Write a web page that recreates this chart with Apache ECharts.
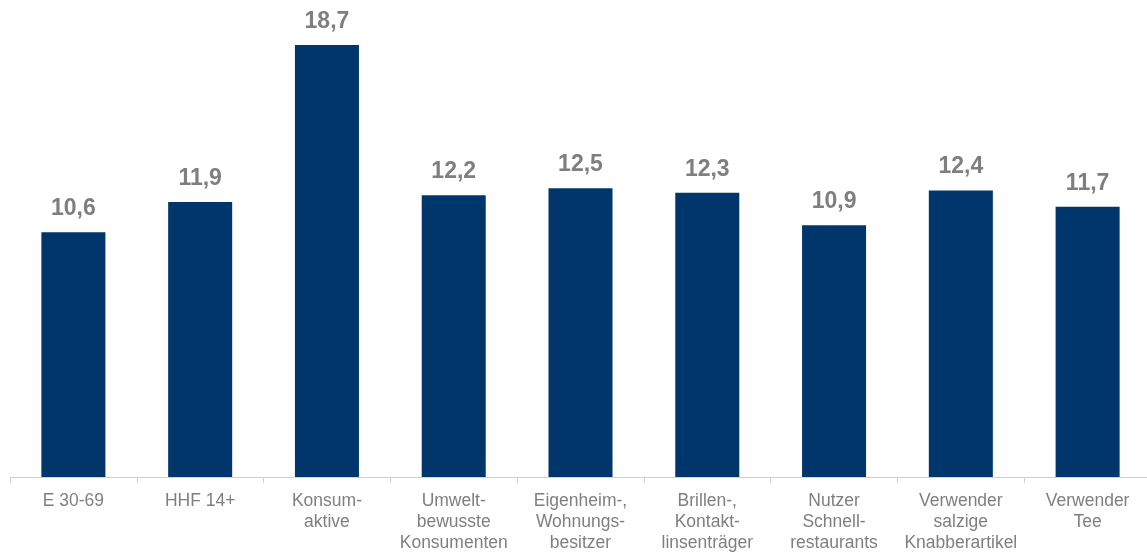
<!DOCTYPE html>
<html>
<head>
<meta charset="utf-8">
<script src="https://cdn.jsdelivr.net/npm/echarts@6/dist/echarts.min.js"></script>
<style>
html,body{margin:0;padding:0;background:#fff;}
#chart{width:1147px;height:552px;}
</style>
</head>
<body>
<div id="chart"></div>
<script>
const categories = [
  "E 30-69",
  "HHF 14+",
  "Konsum-\naktive",
  "Umwelt-\nbewusste\nKonsumenten",
  "Eigenheim-,\nWohnungs-\nbesitzer",
  "Brillen-,\nKontakt-\nlinsenträger",
  "Nutzer\nSchnell-\nrestaurants",
  "Verwender\nsalzige\nKnabberartikel",
  "Verwender\nTee"
];
const values = [10.6, 11.9, 18.7, 12.2, 12.5, 12.3, 10.9, 12.4, 11.7];

const chart = echarts.init(document.getElementById('chart'));
chart.setOption({
  animation: false,
  grid: { left: 10, width: 1141, top: 15, bottom: 75, containLabel: false, outerBoundsMode: 'none' },
  xAxis: {
    type: 'category',
    data: categories,
    axisLine: { lineStyle: { color: '#D0D0D0', width: 1 } },
    axisTick: { show: true, length: 6, lineStyle: { color: '#D0D0D0' } },
    axisLabel: {
      interval: 0,
      margin: 14,
      color: '#7F7F7F',
      fontFamily: 'Liberation Sans, Arial, sans-serif',
      fontSize: 17.5,
      lineHeight: 21,
      align: 'center'
    }
  },
  yAxis: {
    type: 'value',
    min: 0,
    max: 20,
    show: false,
    splitLine: { show: false }
  },
  series: [{
    type: 'bar',
    data: values,
    barWidth: '50.5%',
    itemStyle: { color: '#00366C' },
    label: {
      show: true,
      position: 'top',
      distance: 12,
      color: '#7F7F7F',
      fontFamily: 'Liberation Sans, Arial, sans-serif',
      fontWeight: 'bold',
      fontSize: 23,
      formatter: p => String(p.value).replace('.', ',')
    }
  }]
});
</script>
</body>
</html>
